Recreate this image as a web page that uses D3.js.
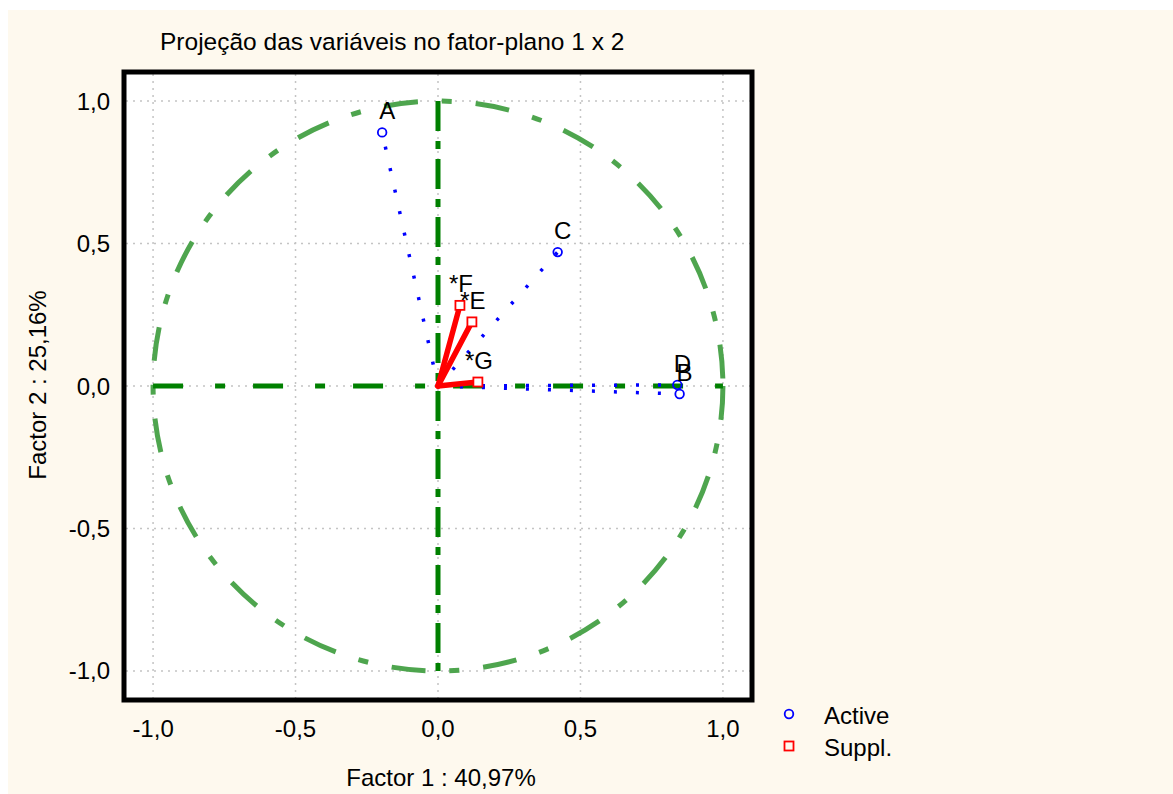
<!DOCTYPE html>
<html>
<head>
<meta charset="utf-8">
<script src="https://cdn.jsdelivr.net/npm/d3@7"></script>
<style>
  html, body { margin: 0; padding: 0; background: #ffffff; }
  svg { display: block; font-family: "Liberation Sans", Arial, sans-serif; }
</style>
</head>
<body>
<div id="chart"></div>
<script>
// Factor-plane projection (1 x 2): active and supplementary variables

const ACTIVE_NAMES = ["A", "B", "C", "D"];
const ACTIVE_F1    = [-0.196, 0.848, 0.42, 0.84];
const ACTIVE_F2    = [0.89, -0.028, 0.47, 0.004];

const SUPPL_NAMES = ["*E", "*F", "*G"];
const SUPPL_F1    = [0.119, 0.077, 0.14];
const SUPPL_F2    = [0.225, 0.283, 0.014];

const TICKS       = [-1, -0.5, 0, 0.5, 1];
const TICK_LABELS = ["-1,0", "-0,5", "0,0", "0,5", "1,0"];

const TITLE   = "Projeção das variáveis no fator-plano 1 x 2";
const X_LABEL = "Factor 1 : 40,97%";
const Y_LABEL = "Factor 2 : 25,16%";
const LEGEND  = ["Active", "Suppl."];

(function () {
  const W = 1173, H = 794;
  const plot = { left: 126, right: 750, top: 74, bottom: 698 };
  const FS = "24px";

  const svg = d3.select("#chart").append("svg")
    .attr("width", W).attr("height", H);

  // cream page background
  svg.append("rect")
    .attr("x", 8).attr("y", 10).attr("width", W - 8).attr("height", H - 10)
    .attr("fill", "#FEF9EE");

  const x = d3.scaleLinear().domain([-1.095, 1.095]).range([plot.left, plot.right]);
  const y = d3.scaleLinear().domain([-1.095, 1.095]).range([plot.bottom, plot.top]);

  // plot area
  svg.append("rect")
    .attr("x", plot.left).attr("y", plot.top)
    .attr("width", plot.right - plot.left).attr("height", plot.bottom - plot.top)
    .attr("fill", "#ffffff");

  // ── Dotted grid ─────────────────────────────
  svg.append("g").selectAll("line").data(TICKS).join("line")
    .attr("x1", d => x(d)).attr("x2", d => x(d))
    .attr("y1", plot.top).attr("y2", plot.bottom)
    .attr("stroke", "#c4c4c4").attr("stroke-width", 1.5)
    .attr("stroke-dasharray", "2,5");
  svg.append("g").selectAll("line").data(TICKS).join("line")
    .attr("y1", d => y(d)).attr("y2", d => y(d))
    .attr("x1", plot.left).attr("x2", plot.right)
    .attr("stroke", "#c4c4c4").attr("stroke-width", 1.5)
    .attr("stroke-dasharray", "2,5");

  // ── Unit circle ─────────────────────────────
  svg.append("circle")
    .attr("cx", x(0)).attr("cy", y(0))
    .attr("r", x(1) - x(0))
    .attr("fill", "none")
    .attr("stroke", "#45a045").attr("stroke-opacity", 0.95)
    .attr("stroke-width", 5)
    .attr("stroke-dasharray", "34,24,10,24");

  // ── Axes through origin ─────────────────────
  svg.append("line")
    .attr("x1", x(-1)).attr("x2", x(1)).attr("y1", y(0)).attr("y2", y(0))
    .attr("stroke", "#008000").attr("stroke-width", 5)
    .attr("stroke-dasharray", "30,32,10,28");
  svg.append("line")
    .attr("x1", x(0)).attr("x2", x(0)).attr("y1", y(1)).attr("y2", y(-1))
    .attr("stroke", "#008000").attr("stroke-width", 5)
    .attr("stroke-dasharray", "30,10,8,10");

  // ── Active vectors (blue dotted) ────────────
  ACTIVE_NAMES.forEach((n, i) => {
    svg.append("line")
      .attr("x1", x(0)).attr("y1", y(0))
      .attr("x2", x(ACTIVE_F1[i])).attr("y2", y(ACTIVE_F2[i]))
      .attr("stroke", "#0000ff").attr("stroke-width", 3.5)
      .attr("stroke-dasharray", "3,19");
  });

  // ── Supplementary vectors (red) ─────────────
  SUPPL_NAMES.forEach((n, i) => {
    svg.append("line")
      .attr("x1", x(0)).attr("y1", y(0))
      .attr("x2", x(SUPPL_F1[i])).attr("y2", y(SUPPL_F2[i]))
      .attr("stroke", "#ff0000").attr("stroke-width", 5.5)
      .attr("stroke-linecap", "round");
  });

  // ── Markers ─────────────────────────────────
  svg.append("g").selectAll("circle").data(ACTIVE_NAMES).join("circle")
    .attr("cx", (d, i) => x(ACTIVE_F1[i]))
    .attr("cy", (d, i) => y(ACTIVE_F2[i]))
    .attr("r", 4.3)
    .attr("fill", "none").attr("stroke", "#0000ff").attr("stroke-width", 1.8);

  svg.append("g").selectAll("rect").data(SUPPL_NAMES).join("rect")
    .attr("x", (d, i) => x(SUPPL_F1[i]) - 4.5)
    .attr("y", (d, i) => y(SUPPL_F2[i]) - 4.5)
    .attr("width", 9).attr("height", 9)
    .attr("fill", "#ffffff").attr("stroke", "#ff0000").attr("stroke-width", 1.8);

  // ── Point labels ────────────────────────────
  svg.append("g").selectAll("text").data(ACTIVE_NAMES).join("text")
    .attr("x", (d, i) => x(ACTIVE_F1[i]) + 5)
    .attr("y", (d, i) => y(ACTIVE_F2[i]) - 13)
    .attr("text-anchor", "middle")
    .attr("font-size", FS).attr("fill", "#000")
    .text(d => d);

  svg.append("g").selectAll("text").data(SUPPL_NAMES).join("text")
    .attr("x", (d, i) => x(SUPPL_F1[i]) + 1)
    .attr("y", (d, i) => y(SUPPL_F2[i]) - 13)
    .attr("text-anchor", "middle")
    .attr("font-size", FS).attr("fill", "#000")
    .text(d => d);

  // ── Frame ───────────────────────────────────
  svg.append("rect")
    .attr("x", plot.left - 2).attr("y", plot.top - 2)
    .attr("width", plot.right - plot.left + 4).attr("height", plot.bottom - plot.top + 4)
    .attr("fill", "none").attr("stroke", "#000").attr("stroke-width", 5);

  // ── Tick labels ─────────────────────────────
  svg.append("g").selectAll("text").data(TICKS).join("text")
    .attr("x", d => x(d)).attr("y", 737)
    .attr("text-anchor", "middle")
    .attr("font-size", FS).attr("fill", "#000")
    .text((d, i) => TICK_LABELS[i]);

  svg.append("g").selectAll("text").data(TICKS).join("text")
    .attr("x", 110).attr("y", d => y(d) + 8.5)
    .attr("text-anchor", "end")
    .attr("font-size", FS).attr("fill", "#000")
    .text((d, i) => TICK_LABELS[i]);

  // ── Titles ──────────────────────────────────
  svg.append("text")
    .attr("x", 160).attr("y", 50)
    .attr("font-size", "24.5px").attr("fill", "#000")
    .text(TITLE);

  svg.append("text")
    .attr("x", 441).attr("y", 786)
    .attr("text-anchor", "middle")
    .attr("font-size", FS).attr("fill", "#000")
    .text(X_LABEL);

  svg.append("text")
    .attr("transform", "translate(46,385) rotate(-90)")
    .attr("text-anchor", "middle")
    .attr("font-size", FS).attr("fill", "#000")
    .text(Y_LABEL);

  // ── Legend ──────────────────────────────────
  const lg = svg.append("g");
  lg.append("circle")
    .attr("cx", 789).attr("cy", 714).attr("r", 4.3)
    .attr("fill", "none").attr("stroke", "#0000ff").attr("stroke-width", 1.8);
  lg.append("rect")
    .attr("x", 784.5).attr("y", 741.5).attr("width", 9).attr("height", 9)
    .attr("fill", "none").attr("stroke", "#ff0000").attr("stroke-width", 1.8);
  lg.selectAll("text").data(LEGEND).join("text")
    .attr("x", 824).attr("y", (d, i) => 724 + i * 32)
    .attr("font-size", FS).attr("fill", "#000")
    .text(d => d);
})();
</script>
</body>
</html>
